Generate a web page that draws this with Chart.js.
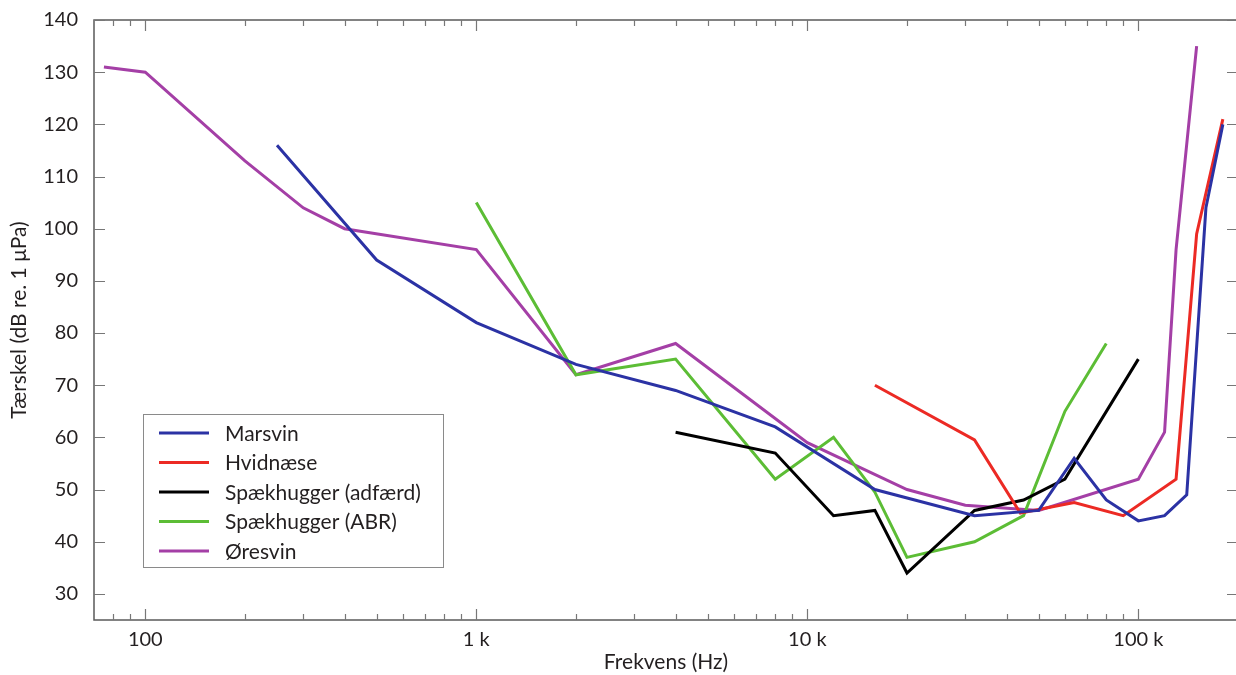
<!DOCTYPE html>
<html>
<head>
<meta charset="utf-8">
<script src="https://cdn.jsdelivr.net/npm/chart.js@4.4.1/dist/chart.umd.min.js"></script>
<style>
  html, body { margin: 0; padding: 0; background: #fff; overflow: hidden; }
  #wrap { width: 1240px; height: 675px; }
</style>
</head>
<body>
<div id="wrap"><canvas id="c" width="1240" height="675"></canvas></div>
<script>
// ---- Data ----
const seriesNames = ['Marsvin', 'Hvidnæse', 'Spækhugger (adfærd)', 'Spækhugger (ABR)', 'Øresvin'];

const marsvinHz = [250, 500, 1000, 2000, 4000, 8000, 16000, 32000, 50000, 64000, 80000, 100000, 120000, 140000, 160000, 180000];
const marsvinDb = [116, 94, 82, 74, 69, 62, 50, 45, 46, 56, 48, 44, 45, 49, 104, 120];

const hvidnaeseHz = [16000, 32000, 44000, 64000, 90000, 130000, 150000, 180000];
const hvidnaeseDb = [70, 59.5, 45.5, 47.5, 45, 52, 99, 121];

const spaekAdfHz = [4000, 8000, 12000, 16000, 20000, 32000, 45000, 60000, 100000];
const spaekAdfDb = [61, 57, 45, 46, 34, 46, 48, 52, 75];

const spaekAbrHz = [1000, 2000, 4000, 8000, 12000, 16000, 20000, 32000, 45000, 60000, 80000];
const spaekAbrDb = [105, 72, 75, 52, 60, 49.5, 37, 40, 45, 65, 78];

const oresvinHz = [75, 100, 200, 300, 400, 1000, 2000, 4000, 10000, 20000, 30000, 50000, 100000, 120000, 130000, 150000];
const oresvinDb = [131, 130, 113, 104, 100, 96, 72, 78, 59, 50, 47, 46, 52, 61, 96, 135];

const xMajorTicks = [100, 1000, 10000, 100000];
const xMajorLabels = ['100', '1 k', '10 k', '100 k'];
const xMinorTicks = [80, 90, 200, 300, 400, 500, 600, 700, 800, 900,
  2000, 3000, 4000, 5000, 6000, 7000, 8000, 9000,
  20000, 30000, 40000, 50000, 60000, 70000, 80000, 90000];
const yTicks = [30, 40, 50, 60, 70, 80, 90, 100, 110, 120, 130, 140];

const colors = ['#2b32a4', '#ec2a24', '#000000', '#5cbd35', '#a43fa6'];

// ---- Build datasets ----
function zip(xs, ys) { return xs.map((x, i) => ({ x: x, y: ys[i] })); }
const allX = [marsvinHz, hvidnaeseHz, spaekAdfHz, spaekAbrHz, oresvinHz];
const allY = [marsvinDb, hvidnaeseDb, spaekAdfDb, spaekAbrDb, oresvinDb];
const datasets = seriesNames.map((name, i) => ({
  label: name,
  data: zip(allX[i], allY[i]),
  borderColor: colors[i],
  backgroundColor: colors[i],
  borderWidth: 3,
  pointRadius: 0,
  tension: 0,
  fill: false
}));

const FAMILY = 'Lato, "Open Sans", sans-serif';
const TICK_FONT = { family: FAMILY, size: 20 };
const TEXT_FONT = { family: FAMILY, size: 21 };
const TXT = '#231f20';

const labelMap = {};
xMajorTicks.forEach((v, i) => { labelMap[v] = xMajorLabels[i]; });

// Frame + inward ticks on all four sides
const framePlugin = {
  id: 'frame',
  afterDatasetsDraw(chart) {
    const { ctx, chartArea: a } = chart;
    const xs = chart.scales.x, ys = chart.scales.y;
    ctx.save();
    ctx.strokeStyle = '#5a5a5a';
    ctx.lineWidth = 1.5;
    ctx.strokeRect(a.left, a.top, a.right - a.left, a.bottom - a.top);
    ctx.strokeStyle = '#777';
    ctx.lineWidth = 1.2;
    xs.ticks.forEach(t => {
      const px = Math.round(xs.getPixelForValue(t.value)) + 0.5;
      const len = t.major ? 11 : 6;
      ctx.beginPath();
      ctx.moveTo(px, a.bottom); ctx.lineTo(px, a.bottom - len);
      ctx.moveTo(px, a.top); ctx.lineTo(px, a.top + len);
      ctx.stroke();
    });
    ys.ticks.forEach(t => {
      const py = Math.round(ys.getPixelForValue(t.value)) + 0.5;
      ctx.beginPath();
      ctx.moveTo(a.left, py); ctx.lineTo(a.left + 11, py);
      ctx.moveTo(a.right, py); ctx.lineTo(a.right - 11, py);
      ctx.stroke();
    });
    ctx.restore();
  }
};

// Boxed legend inside the plot
const boxLegendPlugin = {
  id: 'boxLegend',
  afterDraw(chart, args, opts) {
    const { ctx } = chart;
    const b = opts.box;
    ctx.save();
    ctx.fillStyle = '#fff';
    ctx.fillRect(b.x, b.y, b.w, b.h);
    ctx.strokeStyle = '#8a8a8a';
    ctx.lineWidth = 1;
    ctx.strokeRect(b.x + 0.5, b.y + 0.5, b.w, b.h);
    ctx.font = TEXT_FONT.size + 'px ' + TEXT_FONT.family;
    ctx.textBaseline = 'middle';
    chart.data.datasets.forEach((ds, i) => {
      const y = b.y + b.firstRow + i * b.rowGap;
      ctx.strokeStyle = ds.borderColor;
      ctx.lineWidth = 3;
      ctx.beginPath();
      ctx.moveTo(b.x + b.lineStart, y);
      ctx.lineTo(b.x + b.lineStart + b.lineLen, y);
      ctx.stroke();
      ctx.fillStyle = TXT;
      ctx.fillText(ds.label, b.x + b.textStart, y + 1);
    });
    ctx.restore();
  }
};

new Chart(document.getElementById('c'), {
  type: 'line',
  data: { datasets: datasets },
  plugins: [framePlugin, boxLegendPlugin],
  options: {
    responsive: false,
    animation: false,
    devicePixelRatio: 1,
    parsing: true,
    layout: { padding: { top: 16, right: 2, left: 0, bottom: 0 } },
    plugins: {
      legend: { display: false },
      tooltip: { enabled: false },
      boxLegend: { box: { x: 143, y: 414, w: 300, h: 153, firstRow: 19, rowGap: 29.5, lineStart: 16, lineLen: 50, textStart: 82 } }
    },
    scales: {
      x: {
        type: 'logarithmic',
        position: 'bottom',
        min: 70,
        max: 200000,
        grid: { display: false },
        border: { display: false },
        afterBuildTicks: (s) => {
          const t = xMinorTicks.map(v => ({ value: v, major: false }))
            .concat(xMajorTicks.map(v => ({ value: v, major: true })));
          t.sort((a, b) => a.value - b.value);
          s.ticks = t;
        },
        afterFit: (s) => { s.height = 55; },
        ticks: {
          autoSkip: false,
          maxRotation: 0,
          minRotation: 0,
          padding: 0,
          color: TXT,
          font: TICK_FONT,
          callback: (v) => (labelMap[v] !== undefined ? labelMap[v] : '')
        },
        title: { display: true, text: 'Frekvens (Hz)', color: TXT, font: TEXT_FONT, padding: { top: 0, bottom: 0 } }
      },
      y: {
        type: 'linear',
        min: 25,
        max: 140,
        grid: { display: false },
        border: { display: false },
        afterBuildTicks: (s) => { s.ticks = yTicks.map(v => ({ value: v })); },
        afterFit: (s) => { s.width = 94; },
        ticks: { padding: 8, color: TXT, font: TICK_FONT },
        title: { display: true, text: 'Tærskel (dB re. 1 μPa)', color: TXT, font: TEXT_FONT, padding: { top: 7, bottom: 0 } }
      }
    }
  }
});
</script>
</body>
</html>
